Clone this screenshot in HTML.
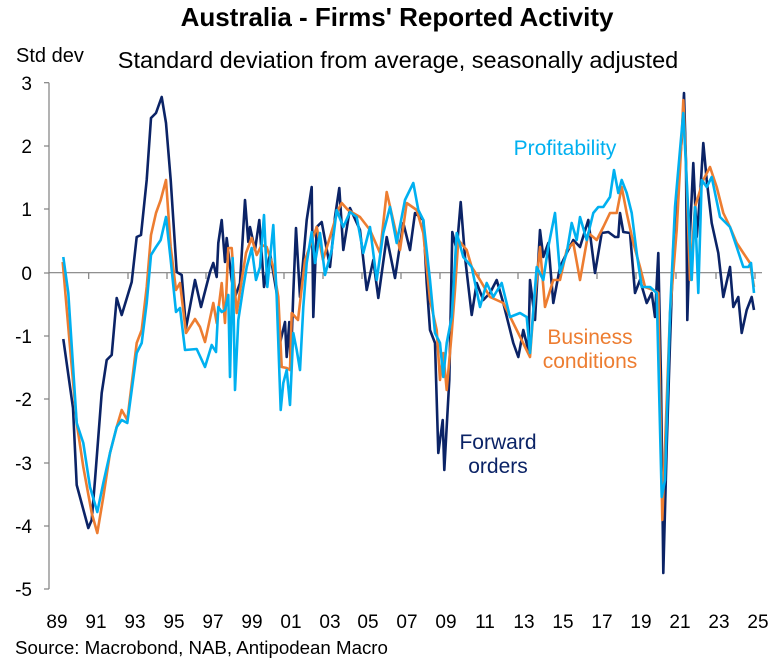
<!DOCTYPE html>
<html><head><meta charset="utf-8"><style>
body{margin:0;background:#fff}
svg{display:block;font-family:"Liberation Sans",Arial,sans-serif}
</style></head><body>
<svg width="779" height="670" viewBox="0 0 779 670" xmlns="http://www.w3.org/2000/svg">
<text x="397" y="26" text-anchor="middle" font-size="26" font-weight="bold" fill="#000">Australia - Firms' Reported Activity</text>
<text x="398" y="68" text-anchor="middle" font-size="23.5" fill="#000">Standard deviation from average, seasonally adjusted</text>
<text x="16" y="62" font-size="20" fill="#000">Std dev</text>
<g font-size="19" fill="#000" text-anchor="end">
<text x="32" y="90">3</text><text x="32" y="153">2</text><text x="32" y="216">1</text><text x="32" y="280">0</text>
<text x="32" y="343">-1</text><text x="32" y="406">-2</text><text x="32" y="470">-3</text><text x="32" y="533">-4</text><text x="32" y="596">-5</text>
</g>
<g stroke="#808080" stroke-width="1.2" fill="none">
<line x1="49" y1="82.7" x2="49" y2="589"/>
<line x1="49" y1="272.7" x2="762" y2="272.7"/>
<line x1="44" y1="82.7" x2="49" y2="82.7"/><line x1="44" y1="146" x2="49" y2="146"/><line x1="44" y1="209" x2="49" y2="209"/><line x1="44" y1="273" x2="49" y2="273"/><line x1="44" y1="336" x2="49" y2="336"/><line x1="44" y1="399" x2="49" y2="399"/><line x1="44" y1="463" x2="49" y2="463"/><line x1="44" y1="526" x2="49" y2="526"/><line x1="44" y1="589" x2="49" y2="589"/>
<path d="M88.7 273v6M128 273v6M167 273v6M206 273v6M245 273v6M284 273v6M323 273v6M362 273v6M401 273v6M440 273v6M479 273v6M518 273v6M558 273v6M597 273v6M636 273v6M676 273v6M716 273v6M755 273v6"/>
</g>
<g font-size="19" fill="#000" text-anchor="middle">
<text x="57" y="628">89</text><text x="96" y="628">91</text><text x="135" y="628">93</text><text x="174" y="628">95</text><text x="213" y="628">97</text><text x="252" y="628">99</text><text x="291" y="628">01</text><text x="330" y="628">03</text><text x="368" y="628">05</text><text x="407" y="628">07</text><text x="446" y="628">09</text><text x="485" y="628">11</text><text x="524" y="628">13</text><text x="563" y="628">15</text><text x="602" y="628">17</text><text x="641" y="628">19</text><text x="680" y="628">21</text><text x="719" y="628">23</text><text x="758" y="628">25</text>
</g>
<text x="15" y="654" font-size="18.7" fill="#000">Source: Macrobond, NAB, Antipodean Macro</text>
<g fill="none" stroke-width="2.6" stroke-linejoin="round">
<polyline stroke="#0b2366" points="63.3,339 73,408 76.7,485 88.3,528 91.7,520 95,480 101.7,393 106.7,360 111.7,355 116.7,298 121.7,315 131.7,282 136.7,237 141,235 146.7,180 151,118 156,113 161.7,97 166,123 170.7,180 176.7,272 181.7,275 186,328 195,280 201,307 210,272 213.3,263 216.7,277 218.3,243 221.7,220 225,262 226.7,238 231.7,280 235,297 240,283 245,200 248.3,242 250,227 255,250 259.3,220 264,287 270,253 276.7,293 280,343 285,322 286.7,357 289.3,322 290.7,367 293.3,293 296,228 300,297 306.7,220 311.7,187 313.3,317 316.7,227 321.7,222 330,267 335,217 339.3,188 343.3,250 350,208 360,230 366.7,290 373.3,260 378.3,298 386.7,237 395,278 403.3,223 410,250 415,213 423.3,220 426.7,283 430,330 435,343 438.3,453 442.7,420 444.3,470 449.3,380 452.3,232 456.7,250 460.7,202 465,257 471.7,315 476.7,283 483.3,300 490,293 496.7,280 503.3,303 513.3,343 518.3,357 523.3,330 528.3,350 530,280 535,320 540,230 543.3,257 548.3,243 553.3,303 560,267 566.7,253 573.3,240 580,247 588.3,220 595,273 601.7,233 608.3,232 615,237 618.3,237 620,213 623.3,232 630,233 635,293 640,280 646.7,303 651.7,293 655,317 658.3,253 661,380 663.3,573 666.7,447 670,343 673.3,247 676.7,197 681.7,140 684,93 686,163 687.3,320 690,233 693.3,163 696.7,237 700,197 703.3,143 706.7,180 711.7,223 718.3,253 723.3,297 730,267 733.3,307 738.3,297 741.7,333 746.7,310 751.7,297 754,310"/>
<polyline stroke="#ed7d31" points="62.7,262 70,347 76.7,423 83.3,467 91.7,513 97.3,533 103.3,497 110,453 116.7,427 121.7,410 127.3,420 136.7,343 141.7,330 146.7,287 151,235 156,213 160.7,200 166,180 170.7,247 176,290 180,283 186,333 195,319 200,327 205,342 213.3,303 216.7,323 221.7,283 225,323 228.3,248 231.7,248 236.7,313 241.7,280 246,253 251.7,238 256.7,255 261.7,245 266.7,247 273.3,267 278.3,297 281.7,367 286.7,368 290,370 291.7,313 298,320 305,260 316.7,227 323,260 333,227 338,210 341.7,203 348,210 360,217 370,230 380,253 386.7,192 400,250 406.7,203 416.7,210 423.3,233 430,300 436.7,330 440,380 443.3,353 446.7,390 451.7,333 455,290 458.3,240 466.7,250 471.7,267 480,280 490,297 503.3,303 516.7,330 530,357 533.3,313 540,247 545,307 553.3,280 560,280 566.7,250 573.3,243 580,280 588.3,233 596.7,240 603.3,227 610,213 616.7,213 621.7,187 626.7,213 633.3,243 640,267 645,287 653.3,290 658.3,293 662.3,520 665,447 670,313 676.7,230 681.7,137 683.3,100 686,163 690,280 695,207 703.3,180 710,167 716.7,187 723.3,213 730,227 736.7,243 743.3,253 750,263 754,287"/>
<polyline stroke="#00b0f0" points="63.3,257 68.3,293 76.7,423 83.3,443 90,487 97.3,512 103.3,483 110,453 116.7,427 121.7,420 127.3,423 136.7,353 141.7,343 146.7,303 151,255 156,247 160.7,240 166,217 170.7,260 176,312 180,308 185,350 196.7,349 205,367 211.7,345 216,352 218.3,307 221.7,312 225,310 228.3,295 230,377 232.7,258 235,390 238.3,320 243.3,287 246.7,267 251.7,248 256,280 260,267 264,215 267.3,287 273.3,225 276.7,297 280.7,410 283.3,383 286.7,370 290,405 293.3,333 296.7,350 300,370 303.3,307 306.7,263 311.7,232 315,263 320,233 325,275 331.7,250 336.7,210 343.3,227 350,212 356.7,217 363.3,253 370,227 376.7,280 383.3,233 390,207 396.7,243 405,200 413.3,183 418.3,210 423.3,220 430,280 435,333 440,343 443.3,377 446.7,343 451.7,317 456.7,233 463.3,257 471.7,267 480,307 486.7,283 493.3,297 501.7,283 510,317 520,313 526.7,317 530,353 536.7,267 543.3,280 548.3,247 555,213 560,273 566.7,253 571.7,223 576.7,240 580,217 586.7,240 593.3,213 598.3,207 603.3,207 610,197 614,170 618.3,193 621.7,180 626.7,193 631.7,213 636.7,253 641.7,287 650,287 656.7,293 661.7,497 665,480 670,313 675,207 680,150 683.3,113 686.7,180 691.7,280 695,207 698.3,293 701.7,180 706.7,187 711.7,177 720,217 730,227 736.7,247 743.3,267 748.3,267 751,263 754,293"/>
</g>
<text x="565" y="155" text-anchor="middle" font-size="21" fill="#00b0f0">Profitability</text>
<text x="590" y="344" text-anchor="middle" font-size="21" fill="#ed7d31">Business</text>
<text x="590" y="368" text-anchor="middle" font-size="21" fill="#ed7d31">conditions</text>
<text x="498" y="449" text-anchor="middle" font-size="21" fill="#0b2366">Forward</text>
<text x="498" y="473" text-anchor="middle" font-size="21" fill="#0b2366">orders</text>
</svg>
</body></html>
